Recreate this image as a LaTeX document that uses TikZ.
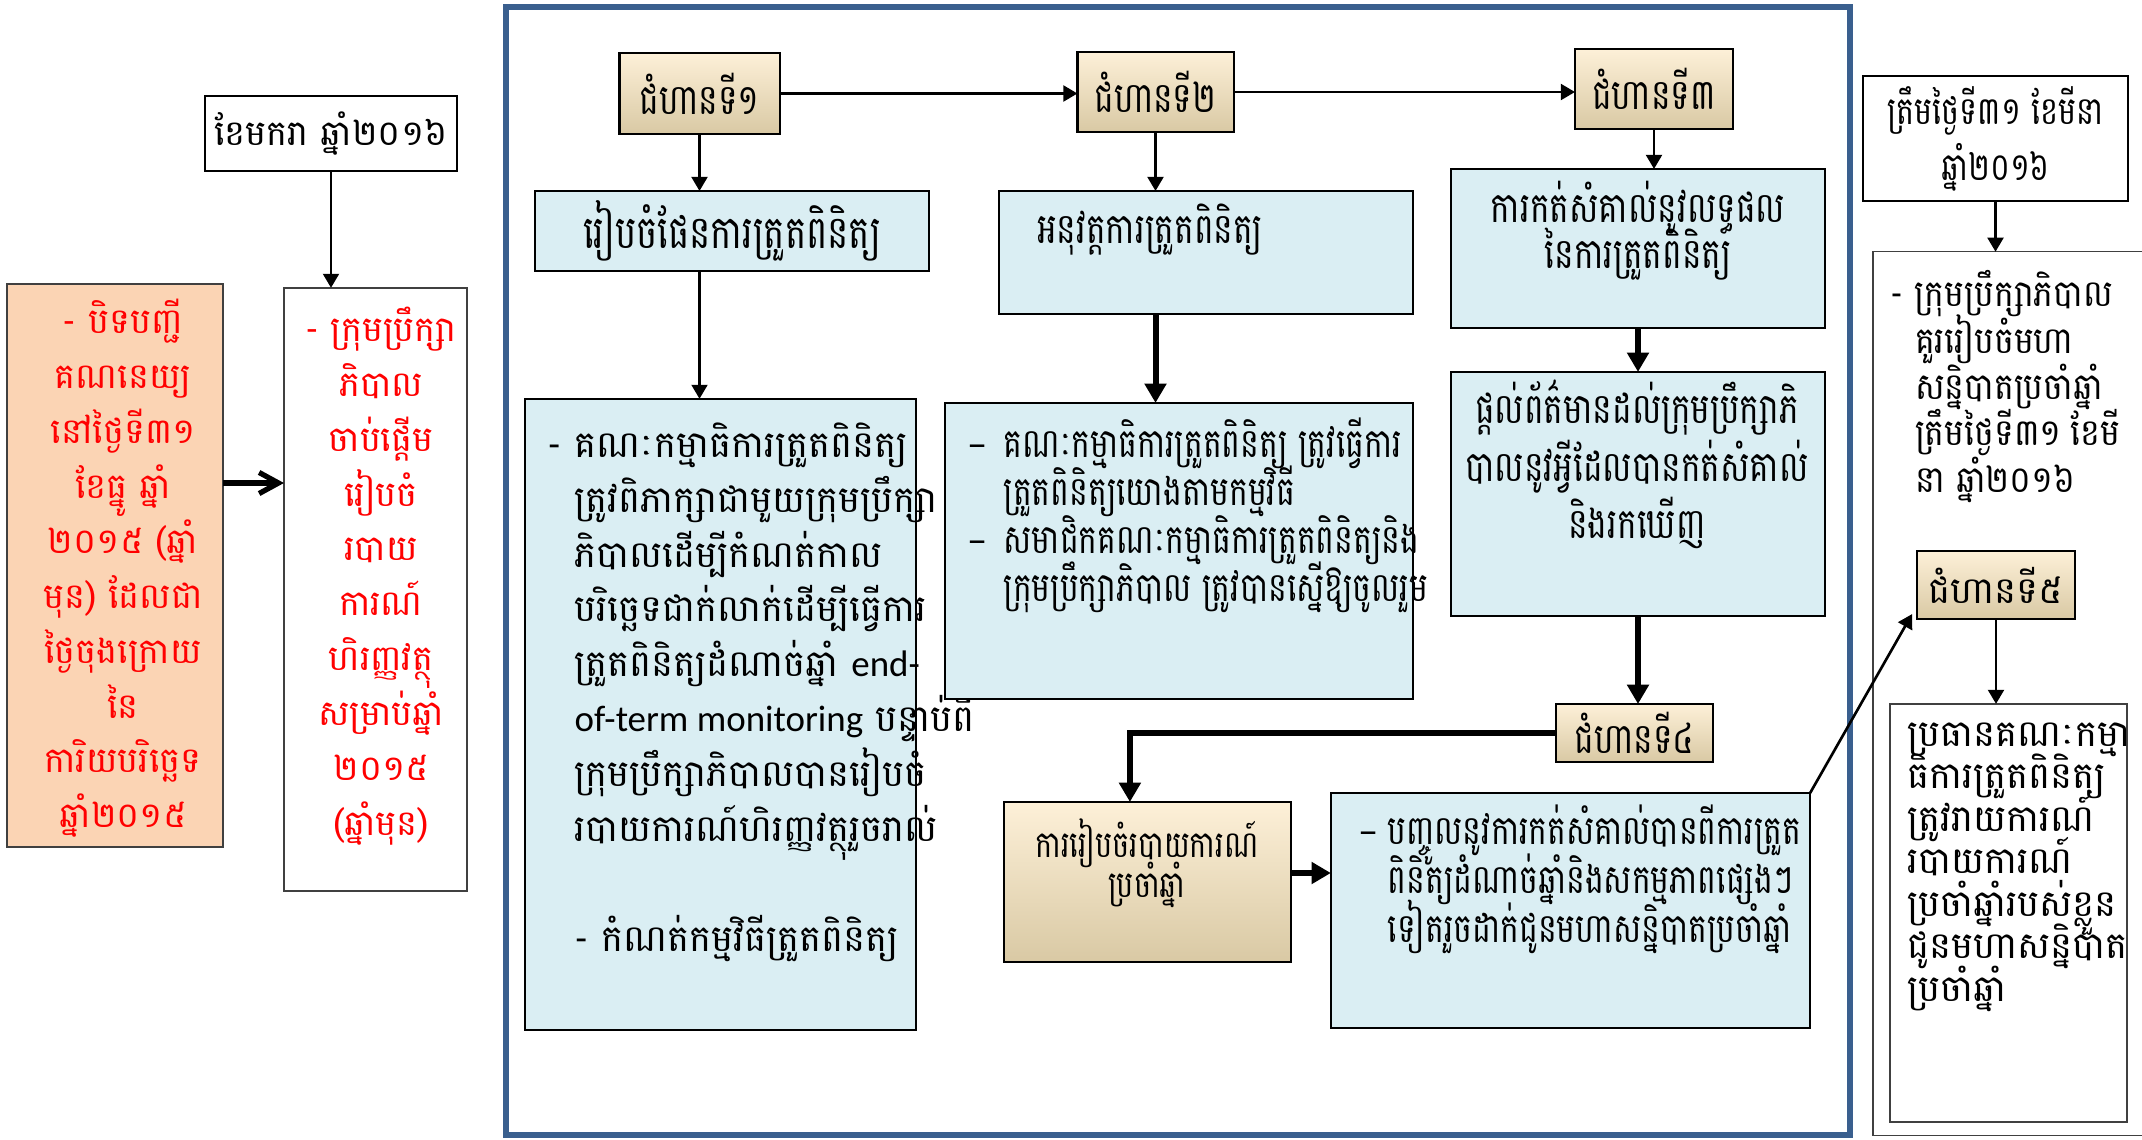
\documentclass[tikz,border=0pt]{standalone}
\usepackage{fontspec}
\usepackage{tikz}
\newfontfamily\kh[Script=Khmer]{Battambang}
\newfontfamily\khm[Script=Khmer,FakeStretch=0.9]{Battambang}
\newfontfamily\khn[Script=Khmer,FakeStretch=0.78]{Battambang}
\newfontfamily\lat{Carlito}
\usetikzlibrary{arrows.meta,calc,positioning}
\lineskiplimit=-100pt

\definecolor{framebl}{HTML}{3A5F8E}
\definecolor{paleblue}{HTML}{DAEEF3}
\definecolor{peach}{HTML}{FBD4B4}
\definecolor{tanlt}{HTML}{FDF0D8}
\definecolor{tanmd}{HTML}{F3E5C8}
\definecolor{tandk}{HTML}{D9C9A4}
\definecolor{txtred}{HTML}{FF0000}

\tikzset{
  box/.style={draw, line width=0.6pt, inner sep=0pt, outer sep=0pt},
  tanfill/.style={top color=tanlt, middle color=tanmd, bottom color=tandk},
  stepbox/.style={box, tanfill, font=\khn\fontsize{12}{14}\selectfont},
  bluebox/.style={box, fill=paleblue},
  whitebox/.style={box, fill=white},
  txt/.style={inner sep=0pt, align=left},
  redtxt/.style={inner sep=0pt, align=center, text=txtred, font=\kh\fontsize{10}{15.6}\selectfont},
  thinarrow/.style={line width=0.75pt, -{Triangle[length=4pt,width=4.5pt]}},
  thickarrow/.style={line width=1.7pt, -{Triangle[length=5.5pt,width=6pt]}},
  openarrow/.style={line width=1.5pt, -{Straight Barb[length=5.5pt,width=6pt]}},
}

\begin{document}
\begin{tikzpicture}[x=0.01cm, y=-0.01cm]
\useasboundingbox (0,0) rectangle (2142,1139);

% left column
\node[whitebox, minimum width=2.52cm, minimum height=0.75cm, font=\kh\fontsize{10}{12}\selectfont] (jan) at (331,133.5) {ខែមករា ឆ្នាំ២០១៦};
\node[box, line width=0.4pt, draw=darkgray, fill=peach, minimum width=2.16cm, minimum height=5.63cm] (close) at (115,565.5) {};
\node[box, line width=0.4pt, draw=darkgray, fill=white, minimum width=1.83cm, minimum height=6.03cm] (start) at (375.5,589.5) {};
\node[redtxt] (closetxt) at (123,568.5) {- បិទបញ្ជី\\គណនេយ្យ\\នៅថ្ងៃទី៣១\\ខែធ្នូ ឆ្នាំ\\២០១៥ (ឆ្នាំ\\មុន) ដែលជា\\ថ្ងៃចុងក្រោយ\\នៃ\\ការិយបរិច្ឆេទ\\ឆ្នាំ២០១៥};
\node[redtxt] (starttxt) at (381,576) {- ក្រុមប្រឹក្សា\\ភិបាល\\ចាប់ផ្តើម\\រៀបចំ\\របាយ\\ការណ៍\\ហិរញ្ញវត្ថុ\\សម្រាប់ឆ្នាំ\\២០១៥\\(ឆ្នាំមុន)};

% frame
\draw[framebl, line width=1.7pt] (506,7) rectangle (1850,1135);

% steps
\node[stepbox, minimum width=1.60cm, minimum height=0.81cm] (s1) at (699.5,93.5) {ជំហានទី១};
\node[stepbox, minimum width=1.56cm, minimum height=0.80cm] (s2) at (1155.5,92) {ជំហានទី២};
\node[stepbox, minimum width=1.58cm, minimum height=0.80cm] (s3) at (1654,89) {ជំហានទី៣};
\node[stepbox, minimum width=1.57cm, minimum height=0.58cm] (s4) at (1634.5,733) {ជំហានទី៤};
\node[stepbox, minimum width=1.58cm, minimum height=0.68cm, font=\kh\fontsize{10.5}{12}\selectfont] (s5) at (1996,585) {ជំហានទី៥};

% second row
\node[bluebox, minimum width=3.94cm, minimum height=0.80cm, font=\khn\fontsize{13}{15}\selectfont] (plan) at (732,231) {រៀបចំផែនការត្រួតពិនិត្យ};
\node[bluebox, minimum width=4.14cm, minimum height=1.23cm] (impl) at (1206,252.5) {};
\node[txt, font=\khn\fontsize{12}{14}\selectfont] (impltxt) at (1150,230) {អនុវត្តការត្រួតពិនិត្យ};
\node[bluebox, minimum width=3.74cm, minimum height=1.59cm] (notes) at (1638,248.5) {};
\node[txt, align=center, font=\khn\fontsize{12}{13}\selectfont] (notestxt) at (1638,231) {ការកត់សំគាល់នូវលទ្ធផល\\នៃការត្រួតពិនិត្យ};

% third row
\node[bluebox, minimum width=3.91cm, minimum height=6.31cm] (bigleft) at (720.5,714.5) {};
\node[txt, anchor=west, font=\kh\fontsize{10.5}{15.6}\selectfont] (biglefttxt) at (547,692) {- គណៈកម្មាធិការត្រួតពិនិត្យ\\
\phantom{- }ត្រូវពិភាក្សាជាមួយក្រុមប្រឹក្សា\\
\phantom{- }ភិបាលដើម្បីកំណត់កាល\\
\phantom{- }បរិច្ឆេទជាក់លាក់ដើម្បីធ្វើការ\\
\phantom{- }ត្រួតពិនិត្យដំណាច់ឆ្នាំ {\lat end-}\\
\phantom{- }{\lat of-term monitoring} បន្ទាប់ពី\\
\phantom{- }ក្រុមប្រឹក្សាភិបាលបានរៀបចំ\\
\phantom{- }របាយការណ៍ហិរញ្ញវត្ថុរួចរាល់\\
\\
\phantom{- }- កំណត់កម្មវិធីត្រួតពិនិត្យ};
\node[bluebox, minimum width=4.68cm, minimum height=2.96cm] (middle) at (1179,551) {};
\node[txt, anchor=west, font=\khn\fontsize{11.5}{13.7}\selectfont] (middletxt) at (967,515.5) {\makebox[0.36cm][l]{\lat –}គណៈកម្មាធិការត្រួតពិនិត្យ ត្រូវធ្វើការ\\
\hspace*{0.36cm}ត្រួតពិនិត្យយោងតាមកម្មវិធី\\
\makebox[0.36cm][l]{\lat –}សមាជិកគណៈកម្មាធិការត្រួតពិនិត្យនិង\\
\hspace*{0.36cm}ក្រុមប្រឹក្សាភិបាល ត្រូវបានស្នើឱ្យចូលរួម};
\node[bluebox, minimum width=3.74cm, minimum height=2.44cm] (info) at (1638,494) {};
\node[txt, align=center, font=\khn\fontsize{12}{16.4}\selectfont] (infotxt) at (1637,464.5) {ផ្តល់ព័ត៌មានដល់ក្រុមប្រឹក្សាភិ\\បាលនូវអ្វីដែលបានកត់សំគាល់\\និងរកឃើញ};

% bottom row
\node[box, tanfill, minimum width=2.87cm, minimum height=1.60cm] (annual) at (1147.5,882) {};
\node[txt, align=center, font=\khn\fontsize{10.5}{11.4}\selectfont] (annualtxt) at (1147,863) {ការរៀបចំរបាយការណ៍\\ប្រចាំឆ្នាំ};
\node[bluebox, minimum width=4.79cm, minimum height=2.35cm] (final) at (1570.5,910.5) {};
\node[txt, anchor=west, font=\khn\fontsize{11.5}{13.9}\selectfont] (finaltxt) at (1358,879) {\makebox[0.29cm][l]{\lat –}បញ្ចូលនូវការកត់សំគាល់បានពីការត្រួត\\
\hspace*{0.29cm}ពិនិត្យដំណាច់ឆ្នាំនិងសកម្មភាពផ្សេងៗ\\
\hspace*{0.29cm}ទៀតរួចដាក់ជូនមហាសន្និបាតប្រចាំឆ្នាំ};

% right column
\node[whitebox, minimum width=2.65cm, minimum height=1.25cm, align=center, font=\khn\fontsize{11}{15.9}\selectfont] (date2) at (1995.5,138.5) {ត្រឹមថ្ងៃទី៣១ ខែមីនា\\ឆ្នាំ២០១៦};
\node[box, line width=0.4pt, draw=darkgray, minimum width=2.87cm, minimum height=8.83cm] (rbox) at (2016.5,693.5) {};
\node[txt, anchor=west, font=\khm\fontsize{10.5}{13.2}\selectfont] (rboxtxt) at (1890,386.5) {- ក្រុមប្រឹក្សាភិបាល\\
\phantom{- }គួររៀបចំមហា\\
\phantom{- }សន្និបាតប្រចាំឆ្នាំ\\
\phantom{- }ត្រឹមថ្ងៃទី៣១\hspace{0.25em}ខែមី\\
\phantom{- }នា ឆ្នាំ២០១៦};
\node[box, line width=0.4pt, draw=darkgray, fill=white, minimum width=2.37cm, minimum height=4.18cm] (chair) at (2008.5,913) {};
\node[txt, anchor=west, font=\kh\fontsize{10.5}{12.1}\selectfont] (chairtxt) at (1907,867) {ប្រធានគណៈកម្មា\\ធិការត្រួតពិនិត្យ\\ត្រូវរាយការណ៍\\របាយការណ៍\\ប្រចាំឆ្នាំរបស់ខ្លួន\\ជូនមហាសន្និបាត\\ប្រចាំឆ្នាំ};

% connectors
\draw[thinarrow] (jan.south) -- (jan.south |- start.north);
\coordinate (c1) at ($(close.east)+(0,-82.5)$);
\draw[openarrow] (c1) -- (c1 -| start.west);
\draw[thinarrow] (s1.east) -- (s1.east -| s2.west);
\draw[thinarrow] (s2.east) -- (s2.east -| s3.west);
\draw[thinarrow] (s1.south) -- (s1.south |- plan.north);
\draw[thinarrow] (s1.south |- plan.south) -- (s1.south |- bigleft.north);
\draw[thinarrow] (s2.south) -- (s2.south |- impl.north);
\draw[thickarrow] (s2.south |- impl.south) -- (s2.south |- middle.north);
\draw[thinarrow] (s3.south) -- (s3.south |- notes.north);
\draw[thickarrow] (notes.south) -- (info.north);
\draw[thickarrow] (info.south) -- (info.south |- s4.north);
\draw[thickarrow] (s4.west) -| ([xshift=-5pt]annual.north);
\coordinate (c2) at ($(annual.east)+(0,-9)$);
\draw[thickarrow] (c2) -- (c2 -| final.west);
\draw[thinarrow] (final.north east) -- ([xshift=-1.4pt,yshift=1.4pt]s5.south west);
\draw[thinarrow] (date2.south) -- (date2.south |- rbox.north);
\draw[thinarrow] (s5.south) -- (s5.south |- chair.north);
\end{tikzpicture}
\end{document}
